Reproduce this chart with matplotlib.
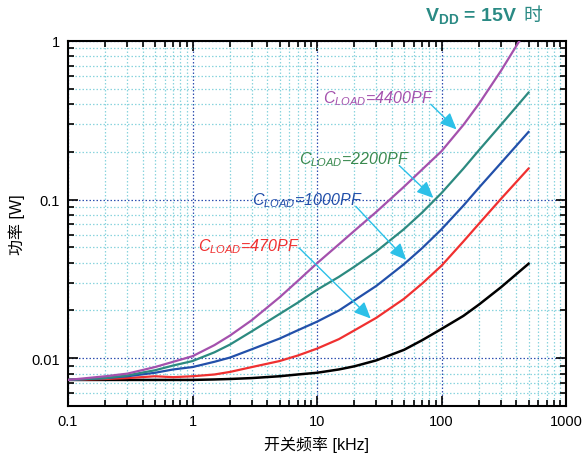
import matplotlib
matplotlib.use("Agg")
import matplotlib.pyplot as plt
from matplotlib.ticker import LogLocator, NullFormatter, FixedLocator, FixedFormatter

plt.rcParams['font.family'] = ['Liberation Sans', 'Noto Sans CJK SC', 'DejaVu Sans']
plt.rcParams['mathtext.fontset'] = 'custom'
plt.rcParams['mathtext.rm'] = 'Liberation Sans'
plt.rcParams['mathtext.it'] = 'Liberation Sans:italic'
plt.rcParams['mathtext.bf'] = 'Liberation Sans:bold'

# switching frequency [kHz] and power [W]
freq = [0.1, 0.2, 0.3, 0.5, 0.7, 1, 1.5, 2, 3, 5, 7, 10, 15, 20, 30, 50, 70, 100, 150, 200, 300, 500]
p_4400 = [0.0073, 0.0077, 0.0080, 0.0088, 0.0095, 0.0103, 0.0121, 0.0139, 0.0174, 0.0242, 0.0307,
          0.0397, 0.0523, 0.0637, 0.0838, 0.1206, 0.155, 0.202, 0.296, 0.402, 0.648, 1.24]
p_2200 = [0.0073, 0.0075, 0.0078, 0.0084, 0.0090, 0.0096, 0.0109, 0.0122, 0.0148, 0.0190, 0.0224,
          0.0270, 0.0326, 0.0378, 0.0472, 0.0652, 0.083, 0.110, 0.157, 0.205, 0.296, 0.473]
p_1000 = [0.0073, 0.0075, 0.0077, 0.0081, 0.0085, 0.0088, 0.0095, 0.0101, 0.0114, 0.0133, 0.0150,
          0.0170, 0.0200, 0.0232, 0.0286, 0.0392, 0.0495, 0.0650, 0.0917, 0.119, 0.170, 0.267]
p_470 = [0.0073, 0.0074, 0.0075, 0.0077, 0.0076, 0.0077, 0.0079, 0.0082, 0.0088, 0.0096, 0.0104,
         0.0115, 0.0132, 0.0150, 0.0180, 0.0237, 0.0296, 0.0383, 0.0545, 0.0705, 0.101, 0.157]
p_0 = [0.0073, 0.0073, 0.0073, 0.0073, 0.0073, 0.0073, 0.00735, 0.0074, 0.0075, 0.0077, 0.0079,
       0.0081, 0.0085, 0.0089, 0.0097, 0.0113, 0.0130, 0.0153, 0.0185, 0.0218, 0.0280, 0.0394]

x_ticks = [0.1, 1, 10, 100, 1000]
x_ticklabels = ["0.1", "1", "10", "100", "1000"]
y_ticks = [0.01, 0.1, 1]
y_ticklabels = ["0.01", "0.1", "1"]

labels = ["4400PF", "2200PF", "1000PF", "470PF"]
label_text_pos = [(11.2, 0.442), (7.2, 0.182), (3.02, 0.100), (1.11, 0.0512)]
arrow_start = [(82, 0.399), (45.8, 0.164), (20.5, 0.0907), (7.2, 0.0495)]
arrow_tip = [(132, 0.277), (86, 0.1025), (52, 0.0417), (27, 0.0178)]

c_purple = '#a451ad'
c_teal = '#2c8a80'
c_blue = '#2250aa'
c_red = '#f03030'
c_label_green = '#3a8a50'
c_arrow = '#2cc0e8'
c_title = '#2a8a84'

fig = plt.figure(figsize=(5.82, 4.56), dpi=100)
ax = fig.add_axes([68/582, 1-407/456, (566-68)/582, (407-42)/456])
ax.set_xscale('log')
ax.set_yscale('log')
ax.set_xlim(0.1, 1000)
ax.set_ylim(0.005, 1)

ax.plot(freq, p_0, color='black', lw=1.8, zorder=3)
ax.plot(freq, p_470, color=c_red, lw=1.6, zorder=3)
ax.plot(freq, p_1000, color=c_blue, lw=1.6, zorder=3)
ax.plot(freq, p_2200, color=c_teal, lw=1.6, zorder=3)
ax.plot(freq, p_4400, color=c_purple, lw=1.6, zorder=3)

ax.xaxis.set_major_locator(FixedLocator(x_ticks))
ax.xaxis.set_major_formatter(FixedFormatter(x_ticklabels))
ax.yaxis.set_major_locator(FixedLocator(y_ticks))
ax.yaxis.set_major_formatter(FixedFormatter(y_ticklabels))
ax.xaxis.set_minor_locator(LogLocator(base=10, subs=range(2, 10), numticks=20))
ax.yaxis.set_minor_locator(LogLocator(base=10, subs=range(2, 10), numticks=20))
ax.xaxis.set_minor_formatter(NullFormatter())
ax.yaxis.set_minor_formatter(NullFormatter())

ax.grid(which='minor', color='#8ad4de', linestyle=(0, (1.2, 1.6)), lw=0.9, zorder=0)
ax.grid(which='major', color='#3050b0', linestyle=(0, (1.2, 1.6)), lw=0.9, zorder=0)

ax.tick_params(which='both', direction='in', top=True, right=True, labelsize=10.5, width=1.2, pad=6)
ax.tick_params(which='major', length=7)
ax.tick_params(which='minor', length=4)
for s in ax.spines.values():
    s.set_linewidth(1.5)

label_colors = [c_purple, c_label_green, c_blue, c_red]
for lab, tp, st, tip, col in zip(labels, label_text_pos, arrow_start, arrow_tip, label_colors):
    ax.text(tp[0], tp[1], r'$C_{LOAD}$=' + lab, color=col, fontsize=11.5, style='italic',
            va='center', ha='left', zorder=5)
    ax.annotate('', xy=tip, xytext=st,
                arrowprops=dict(arrowstyle='-|>,head_length=1.0,head_width=0.45',
                                color=c_arrow, lw=1.0, shrinkA=0, shrinkB=0), zorder=5)

ax.set_xlabel('开关频率 [kHz]', fontsize=11.5, labelpad=5)
ax.set_ylabel('功率 [W]', fontsize=11.5, labelpad=4)

t1 = fig.text(425/582, 1-21/456, r'V$_{\mathbf{DD}}$ = 15V', color=c_title, fontsize=14,
              fontweight='bold', ha='left', va='baseline')
fig.canvas.draw()
bb = t1.get_window_extent()
fig.text((bb.x1 + 6)/fig.bbox.width, 1-21/456, '时', color=c_title, fontsize=13.5,
         family=['Noto Sans CJK SC'], ha='left', va='baseline')

fig.savefig('out.png', dpi=100)
